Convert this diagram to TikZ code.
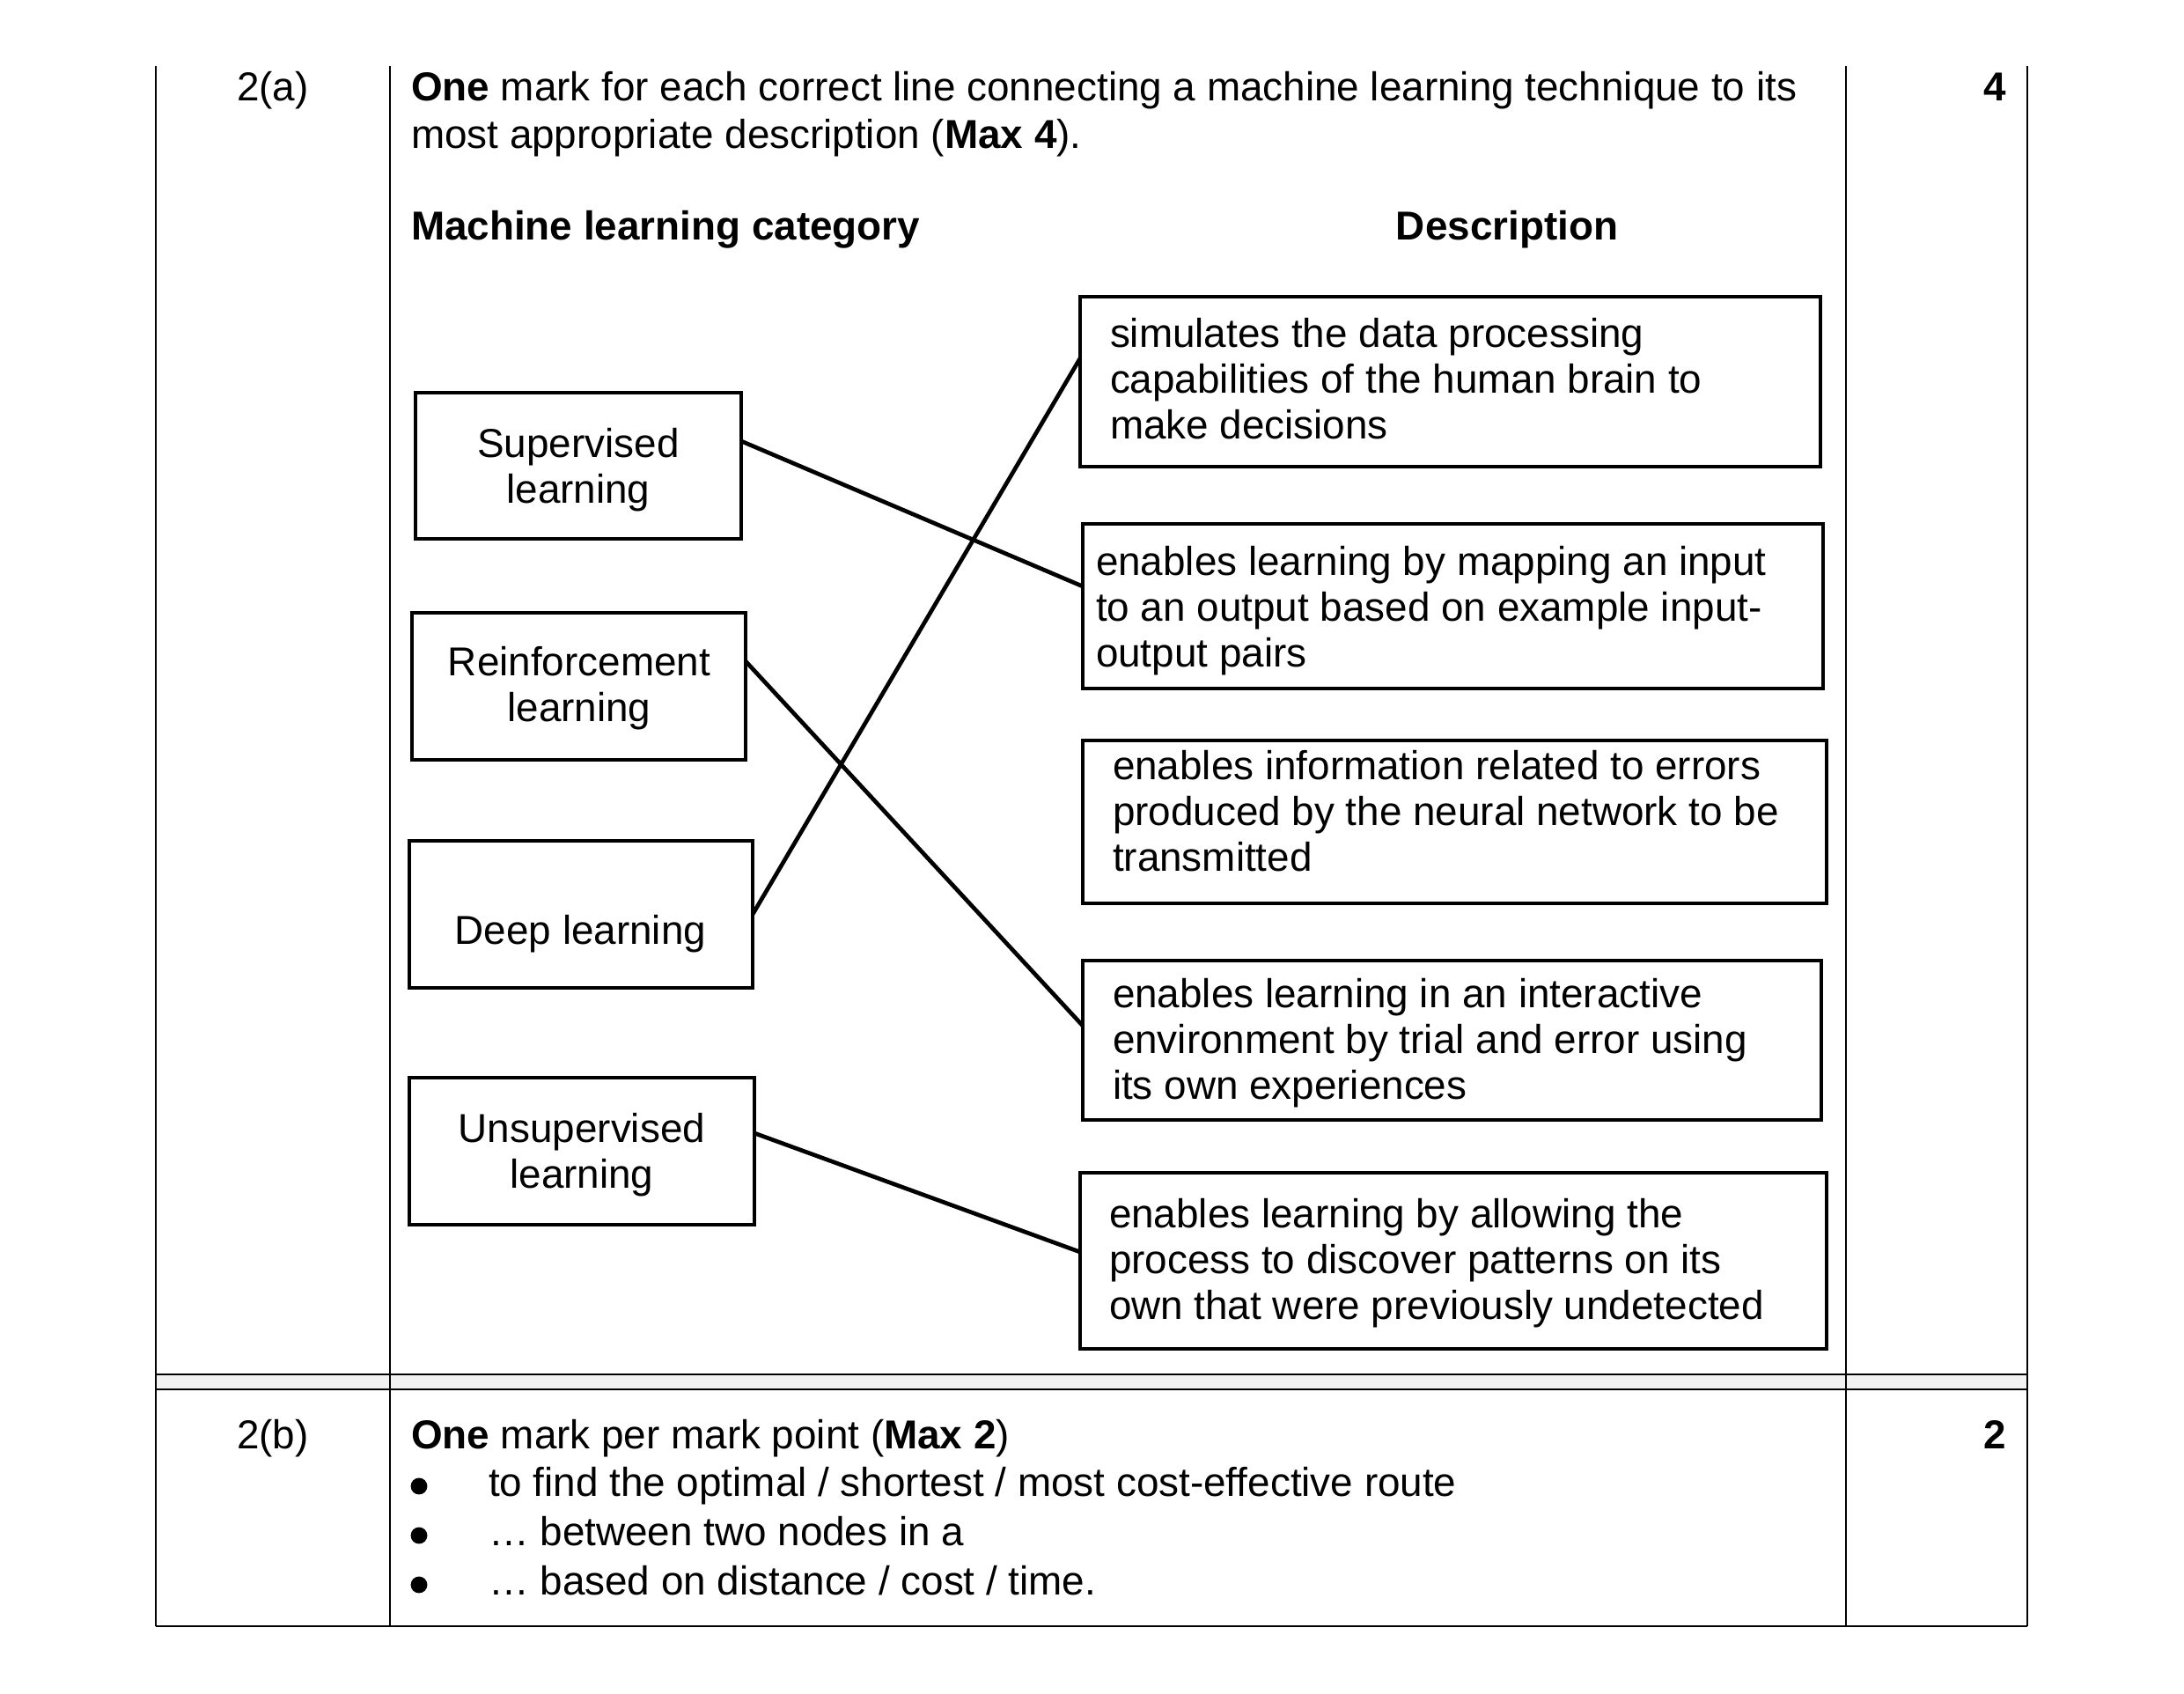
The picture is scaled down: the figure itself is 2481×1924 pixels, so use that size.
\documentclass[tikz,border=0pt]{standalone}
\usepackage{fontspec}
\setmainfont{Liberation Sans}
\begin{document}
\begin{tikzpicture}[x=0.2433pt, y=-0.2433pt,
  every node/.style={inner sep=0pt, outer sep=0pt},
  txt/.style={font=\fontsize{11.15pt}{12.65pt}\selectfont},
  rowtxt/.style={font=\fontsize{11.15pt}{13pt}\selectfont},
  box/.style={draw=black, line width=1.15pt, rectangle},
  conn/.style={draw=black, line width=1.15pt},
  tline/.style={draw=black, line width=0.5pt},
  bul/.style={circle, fill=black, minimum size=4.6pt}
]
\useasboundingbox (0,0) rectangle (2481,1924);
\definecolor{sepgray}{HTML}{F2F2F2}

% ---------- table ----------
\fill[sepgray] (177,1561) rectangle (2303,1578);
\draw[tline] (177,75) -- (177,1847);
\draw[tline] (443,75) -- (443,1847);
\draw[tline] (2097,75) -- (2097,1847);
\draw[tline] (2303,75) -- (2303,1847);
\draw[draw=black, line width=0.45pt] (177,1561) -- (2303,1561);
\draw[draw=black, line width=0.65pt] (177,1578) -- (2303,1578);
\draw[draw=black, line width=0.6pt] (177,1847) -- (2303,1847);

% ---------- row 2(a) ----------
\node[rowtxt, anchor=base] (qa) at (310,115) {2(a)};
\node[rowtxt, anchor=base west] (introa) at (467,115) {\begin{tabular}[t]{@{}l@{}}\textbf{One} mark for each correct line connecting a machine learning technique to its\\most appropriate description (\textbf{Max 4}).\end{tabular}};
\node[rowtxt, anchor=base east] (marka) at (2279,115) {\textbf{4}};

\node[txt, anchor=base west] (hcat) at (467,273) {\textbf{Machine learning category}};
\node[txt, anchor=base] (hdesc) at (1712,273) {\textbf{Description}};

% left boxes
\node[box, minimum width=90.02pt, minimum height=40.39pt] (sup) at (657,529) {};
\node[box, minimum width=92.21pt, minimum height=40.63pt] (rei) at (657.5,779.5) {};
\node[box, minimum width=94.89pt, minimum height=40.63pt] (deep) at (660,1038.5) {};
\node[box, minimum width=95.37pt, minimum height=40.63pt] (uns) at (661,1307.5) {};

\node[txt, anchor=base] (tsup) at (657,520) {\begin{tabular}[t]{@{}c@{}}Supervised\\learning\end{tabular}};
\node[txt, anchor=base] (trei) at (658,768) {\begin{tabular}[t]{@{}c@{}}Reinforcement\\learning\end{tabular}};
\node[txt, anchor=base] (tdeep) at (659.5,1072.7) {Deep learning};
\node[txt, anchor=base] (tuns) at (661,1297.7) {\begin{tabular}[t]{@{}c@{}}Unsupervised\\learning\end{tabular}};

% right boxes
\node[box, minimum width=204.62pt, minimum height=46.96pt] (d1) at (1647.5,433.5) {};
\node[box, minimum width=204.62pt, minimum height=45.50pt] (d2) at (1650.5,688.5) {};
\node[box, minimum width=205.59pt, minimum height=45.01pt] (d3) at (1652.5,933.5) {};
\node[box, minimum width=204.13pt, minimum height=44.04pt] (d4) at (1649.5,1181.5) {};
\node[box, minimum width=206.32pt, minimum height=48.66pt] (d5) at (1651,1432) {};

\node[txt, anchor=base west] (td1) at (1261,395) {\begin{tabular}[t]{@{}l@{}}simulates the data processing\\capabilities of the human brain to\\make decisions\end{tabular}};
\node[txt, anchor=base west] (td2) at (1245,654) {\begin{tabular}[t]{@{}l@{}}enables learning by mapping an input\\to an output based on example input-\\output pairs\end{tabular}};
\node[txt, anchor=base west] (td3) at (1264,886) {\begin{tabular}[t]{@{}l@{}}enables information related to errors\\produced by the neural network to be\\transmitted\end{tabular}};
\node[txt, anchor=base west] (td4) at (1264,1145) {\begin{tabular}[t]{@{}l@{}}enables learning in an interactive\\environment by trial and error using\\its own experiences\end{tabular}};
\node[txt, anchor=base west] (td5) at (1260,1395) {\begin{tabular}[t]{@{}l@{}}enables learning by allowing the\\process to discover patterns on its\\own that were previously undetected\end{tabular}};

% connectors
\draw[conn] ([yshift=6.81pt]sup.east) -- ([yshift=5.47pt]d2.west);
\draw[conn] ([yshift=6.93pt]rei.east) -- ([yshift=4.01pt]d4.west);
\draw[conn] (deep.east) -- ([yshift=6.45pt]d1.west);
\draw[conn] ([yshift=4.99pt]uns.east) -- ([yshift=2.43pt]d5.west);

% ---------- row 2(b) ----------
\node[rowtxt, anchor=base] (qb) at (310,1646) {2(b)};
\node[rowtxt, anchor=base west] (introb) at (467,1646) {\textbf{One} mark per mark point (\textbf{Max 2})};
\node[rowtxt, anchor=base east] (markb) at (2279,1646) {\textbf{2}};

\node[bul] (b1) at (476,1688) {};
\node[bul] (b2) at (476,1744) {};
\node[bul] (b3) at (476,1800) {};
\node[rowtxt, anchor=base west] (p1) at (555,1700) {to find the optimal / shortest / most cost-effective route};
\node[rowtxt, anchor=base west] (p2) at (555,1756) {… between two nodes in a};
\node[rowtxt, anchor=base west] (p3) at (555,1812) {… based on distance / cost / time.};
\end{tikzpicture}
\end{document}
